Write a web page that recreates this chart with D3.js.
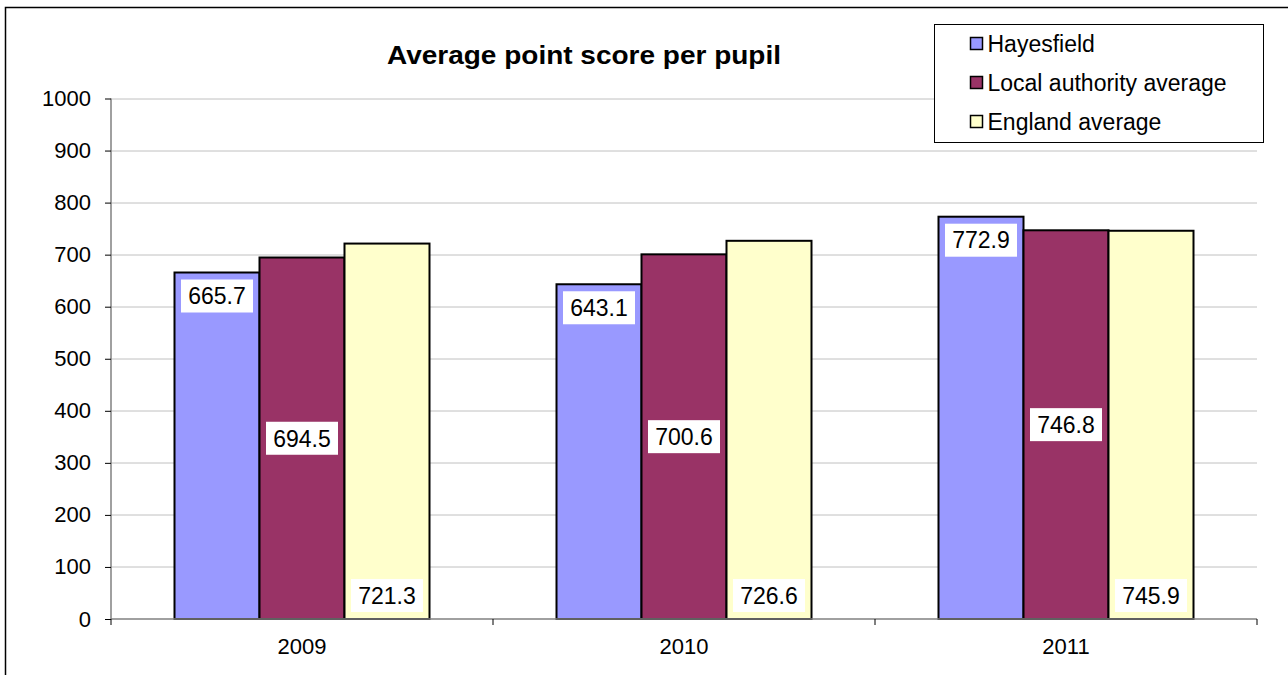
<!DOCTYPE html>
<html>
<head>
<meta charset="utf-8">
<script src="https://cdn.jsdelivr.net/npm/d3@7"></script>
<style>
  body { margin: 0; background: #fff; }
  svg { display: block; font-family: "Liberation Sans", Arial, sans-serif; }
</style>
</head>
<body>
<svg class="chart" width="1288" height="675"></svg>
<script>
var years = ["2009", "2010", "2011"];
var seriesNames = ["Hayesfield", "Local authority average", "England average"];
var hayesfield = [665.7, 643.1, 772.9];
var localAuthority = [694.5, 700.6, 746.8];
var england = [721.3, 726.6, 745.9];
var yTicks = [0, 100, 200, 300, 400, 500, 600, 700, 800, 900, 1000];

var colors = ["#9999ff", "#993366", "#ffffcc"];
var labelPos = ["top", "middle", "bottom"];
var values = [hayesfield, localAuthority, england];

var svg = d3.select(".chart"),
    margin = {top: 98.5, right: 31, bottom: 56, left: 111},
    width = +svg.attr("width") - margin.left - margin.right,
    height = +svg.attr("height") - margin.top - margin.bottom;

// outer chart frame (only top and left edges are in view)
svg.append("path")
    .attr("d", "M5.5,675 V7.5 H1288")
    .attr("fill", "none")
    .attr("stroke", "#000")
    .attr("stroke-width", 1.5);

svg.append("text")
    .attr("x", 584)
    .attr("y", 64)
    .attr("text-anchor", "middle")
    .attr("font-size", 26)
    .attr("font-weight", "bold")
    .attr("textLength", 394)
    .attr("lengthAdjust", "spacingAndGlyphs")
    .text("Average point score per pupil");

var g = svg.append("g").attr("transform", "translate(" + margin.left + "," + margin.top + ")");

var x0 = d3.scaleBand()
    .domain(years)
    .range([0, width]);

var x1 = d3.scaleBand()
    .domain(d3.range(seriesNames.length))
    .range([0, x0.bandwidth() * 255 / 382])
    .padding(0);

var groupOffset = (x0.bandwidth() - x1.range()[1]) / 2;

var y = d3.scaleLinear()
    .domain([0, 1000])
    .range([height, 0]);

// gridlines
g.append("g")
  .selectAll("line")
  .data(yTicks.filter(function(d) { return d > 0; }))
  .enter().append("line")
    .attr("x1", 0)
    .attr("x2", width)
    .attr("y1", function(d) { return Math.round(y(d)) + 0.5; })
    .attr("y2", function(d) { return Math.round(y(d)) + 0.5; })
    .attr("stroke", "#c0c0c0")
    .attr("stroke-width", 1);

// bars
var rows = [];
years.forEach(function(yr, i) {
  values.forEach(function(arr, s) {
    rows.push({year: yr, s: s, value: arr[i]});
  });
});

g.append("g")
  .selectAll("rect")
  .data(rows)
  .enter().append("rect")
    .attr("x", function(d) { return x0(d.year) + groupOffset + x1(d.s); })
    .attr("y", function(d) { return y(d.value); })
    .attr("width", x1.bandwidth())
    .attr("height", function(d) { return height - y(d.value); })
    .attr("fill", function(d) { return colors[d.s]; })
    .attr("stroke", "#000")
    .attr("stroke-width", 2);

// data labels
var labels = g.append("g")
  .selectAll("g")
  .data(rows)
  .enter().append("g")
    .attr("transform", function(d) {
      var cx = x0(d.year) + groupOffset + x1(d.s) + x1.bandwidth() / 2;
      var cy;
      if (labelPos[d.s] === "top") cy = y(d.value) + 23.5;
      else if (labelPos[d.s] === "middle") cy = (y(d.value) + height) / 2;
      else cy = height - 23.5;
      return "translate(" + cx + "," + cy + ")";
    });

labels.append("rect")
    .attr("x", -36)
    .attr("y", -16.5)
    .attr("width", 72)
    .attr("height", 33)
    .attr("fill", "#fff");

labels.append("text")
    .attr("text-anchor", "middle")
    .attr("dy", "0.36em")
    .attr("font-size", 23)
    .text(function(d) { return d.value.toFixed(1); });

// y axis
var yAxis = g.append("g")
    .call(d3.axisLeft(y).tickValues(yTicks).tickFormat(d3.format("d")).tickSize(6).tickPadding(14));
yAxis.select(".domain").attr("stroke", "#808080").attr("stroke-width", 1.5).attr("d", "M0,0V" + height);
yAxis.selectAll(".tick line").attr("stroke", "#000");
yAxis.selectAll(".tick text").attr("font-size", 22).attr("fill", "#000").attr("font-family", "Liberation Sans, Arial, sans-serif");

// x axis
var xAxis = g.append("g")
    .attr("transform", "translate(0," + height + ")")
    .call(d3.axisBottom(x0).tickSize(0).tickPadding(19));
xAxis.select(".domain").attr("stroke", "#808080").attr("stroke-width", 1.5).attr("d", "M0,0H" + width);
xAxis.selectAll(".tick text").attr("font-size", 22).attr("fill", "#000").attr("font-family", "Liberation Sans, Arial, sans-serif");

// category separators
g.append("g")
  .selectAll("line")
  .data(years.map(function(d) { return x0(d); }).concat([width]))
  .enter().append("line")
    .attr("x1", function(d) { return d; })
    .attr("x2", function(d) { return d; })
    .attr("y1", height)
    .attr("y2", height + 6)
    .attr("stroke", "#000");

// legend
var legend = svg.append("g").attr("transform", "translate(934.5,24.5)");
legend.append("rect")
    .attr("width", 329)
    .attr("height", 118)
    .attr("fill", "#fff")
    .attr("stroke", "#000")
    .attr("stroke-width", 1);

var items = legend.selectAll(".item")
  .data(seriesNames)
  .enter().append("g")
    .attr("transform", function(d, i) { return "translate(36," + (19 + i * 39) + ")"; });

items.append("rect")
    .attr("x", 0)
    .attr("y", -6)
    .attr("width", 12)
    .attr("height", 12)
    .attr("fill", function(d, i) { return colors[i]; })
    .attr("stroke", "#000")
    .attr("stroke-width", 1.5);

items.append("text")
    .attr("x", 17)
    .attr("dy", "0.36em")
    .attr("font-size", 23)
    .text(function(d) { return d; });
</script>
</body>
</html>
